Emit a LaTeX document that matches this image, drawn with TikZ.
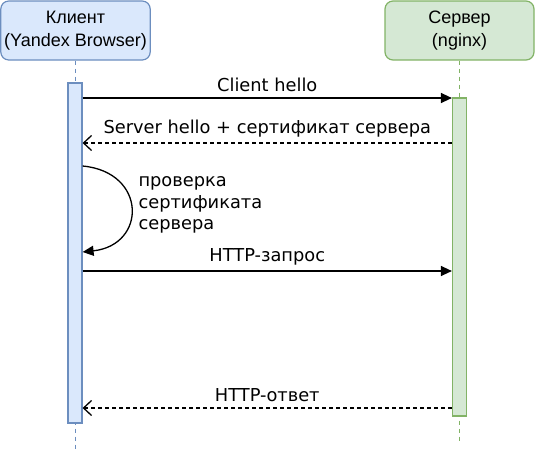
\documentclass[tikz,border=0pt]{standalone}
\usepackage{fontspec}
\setmainfont{Liberation Sans}
\newfontfamily\msgfont{DejaVu Sans}
\usepackage{tikz}
\usetikzlibrary{positioning,arrows.meta}
\definecolor{clientfill}{HTML}{DAE8FC}
\definecolor{clientdraw}{HTML}{6C8EBF}
\definecolor{serverfill}{HTML}{D5E8D4}
\definecolor{serverdraw}{HTML}{82B366}

\begin{document}
\begin{tikzpicture}[x=1pt,y=-1pt,
  head/.style={draw,rounded corners=8pt,line width=1.2pt,minimum width=149pt,minimum height=59pt,align=center,font=\fontsize{18}{23}\selectfont},
  bar/.style={draw,line width=1.2pt,minimum width=14pt,inner sep=0pt},
  life/.style={line width=1.2pt,dash pattern=on 4pt off 4pt},
  msg/.style={line width=1.3pt,-{Triangle[length=11pt,width=10pt]}},
  reply/.style={line width=1.3pt,dash pattern=on 4pt off 3pt,-{Straight Barb[length=8pt,width=15pt]}},
  lbl/.style={font=\msgfont\fontsize{17.8}{21.5}\selectfont}]
\useasboundingbox (0,0) rectangle (537,455);
% participants
\node[head,fill=clientfill,draw=clientdraw] (client) at (75.5,30.5) {Клиент\\(Yandex Browser)};
\node[head,fill=serverfill,draw=serverdraw] (server) at (459.5,30.5) {Сервер\\(nginx)};
% lifelines
\draw[life,draw=clientdraw] (client.south) -- (client.south |- 0,452);
\draw[life,draw=serverdraw] (server.south) -- (server.south |- 0,443);
% activation bars
\node[bar,fill=clientfill,draw=clientdraw,minimum height=340pt] (clientbar) at (75,253) {};
\node[bar,fill=serverfill,draw=serverdraw,minimum height=318pt] (serverbar) at (459.5,257) {};
% messages
\draw[msg] (clientbar.east |- 0,98) -- node[lbl,above=2pt] {Client hello} (serverbar.west |- 0,98);
\draw[reply] (serverbar.west |- 0,143) -- node[lbl,above=2pt] {Server hello + сертификат сервера} (clientbar.east |- 0,143);
\draw[msg] (clientbar.east |- 0,271) -- node[lbl,above=2pt] {HTTP-запрос} (serverbar.west |- 0,271);
\draw[reply] (serverbar.west |- 0,408) -- node[lbl,above=2pt] {HTTP-ответ} (clientbar.east |- 0,408);
% self check
\draw[msg] (clientbar.east |- 0,166) .. controls (147,172) and (147,245) .. (clientbar.east |- 0,252);
\node[lbl,anchor=west,align=left] (check) at (135,205) {проверка\\сертификата\\сервера};
\end{tikzpicture}
\end{document}
